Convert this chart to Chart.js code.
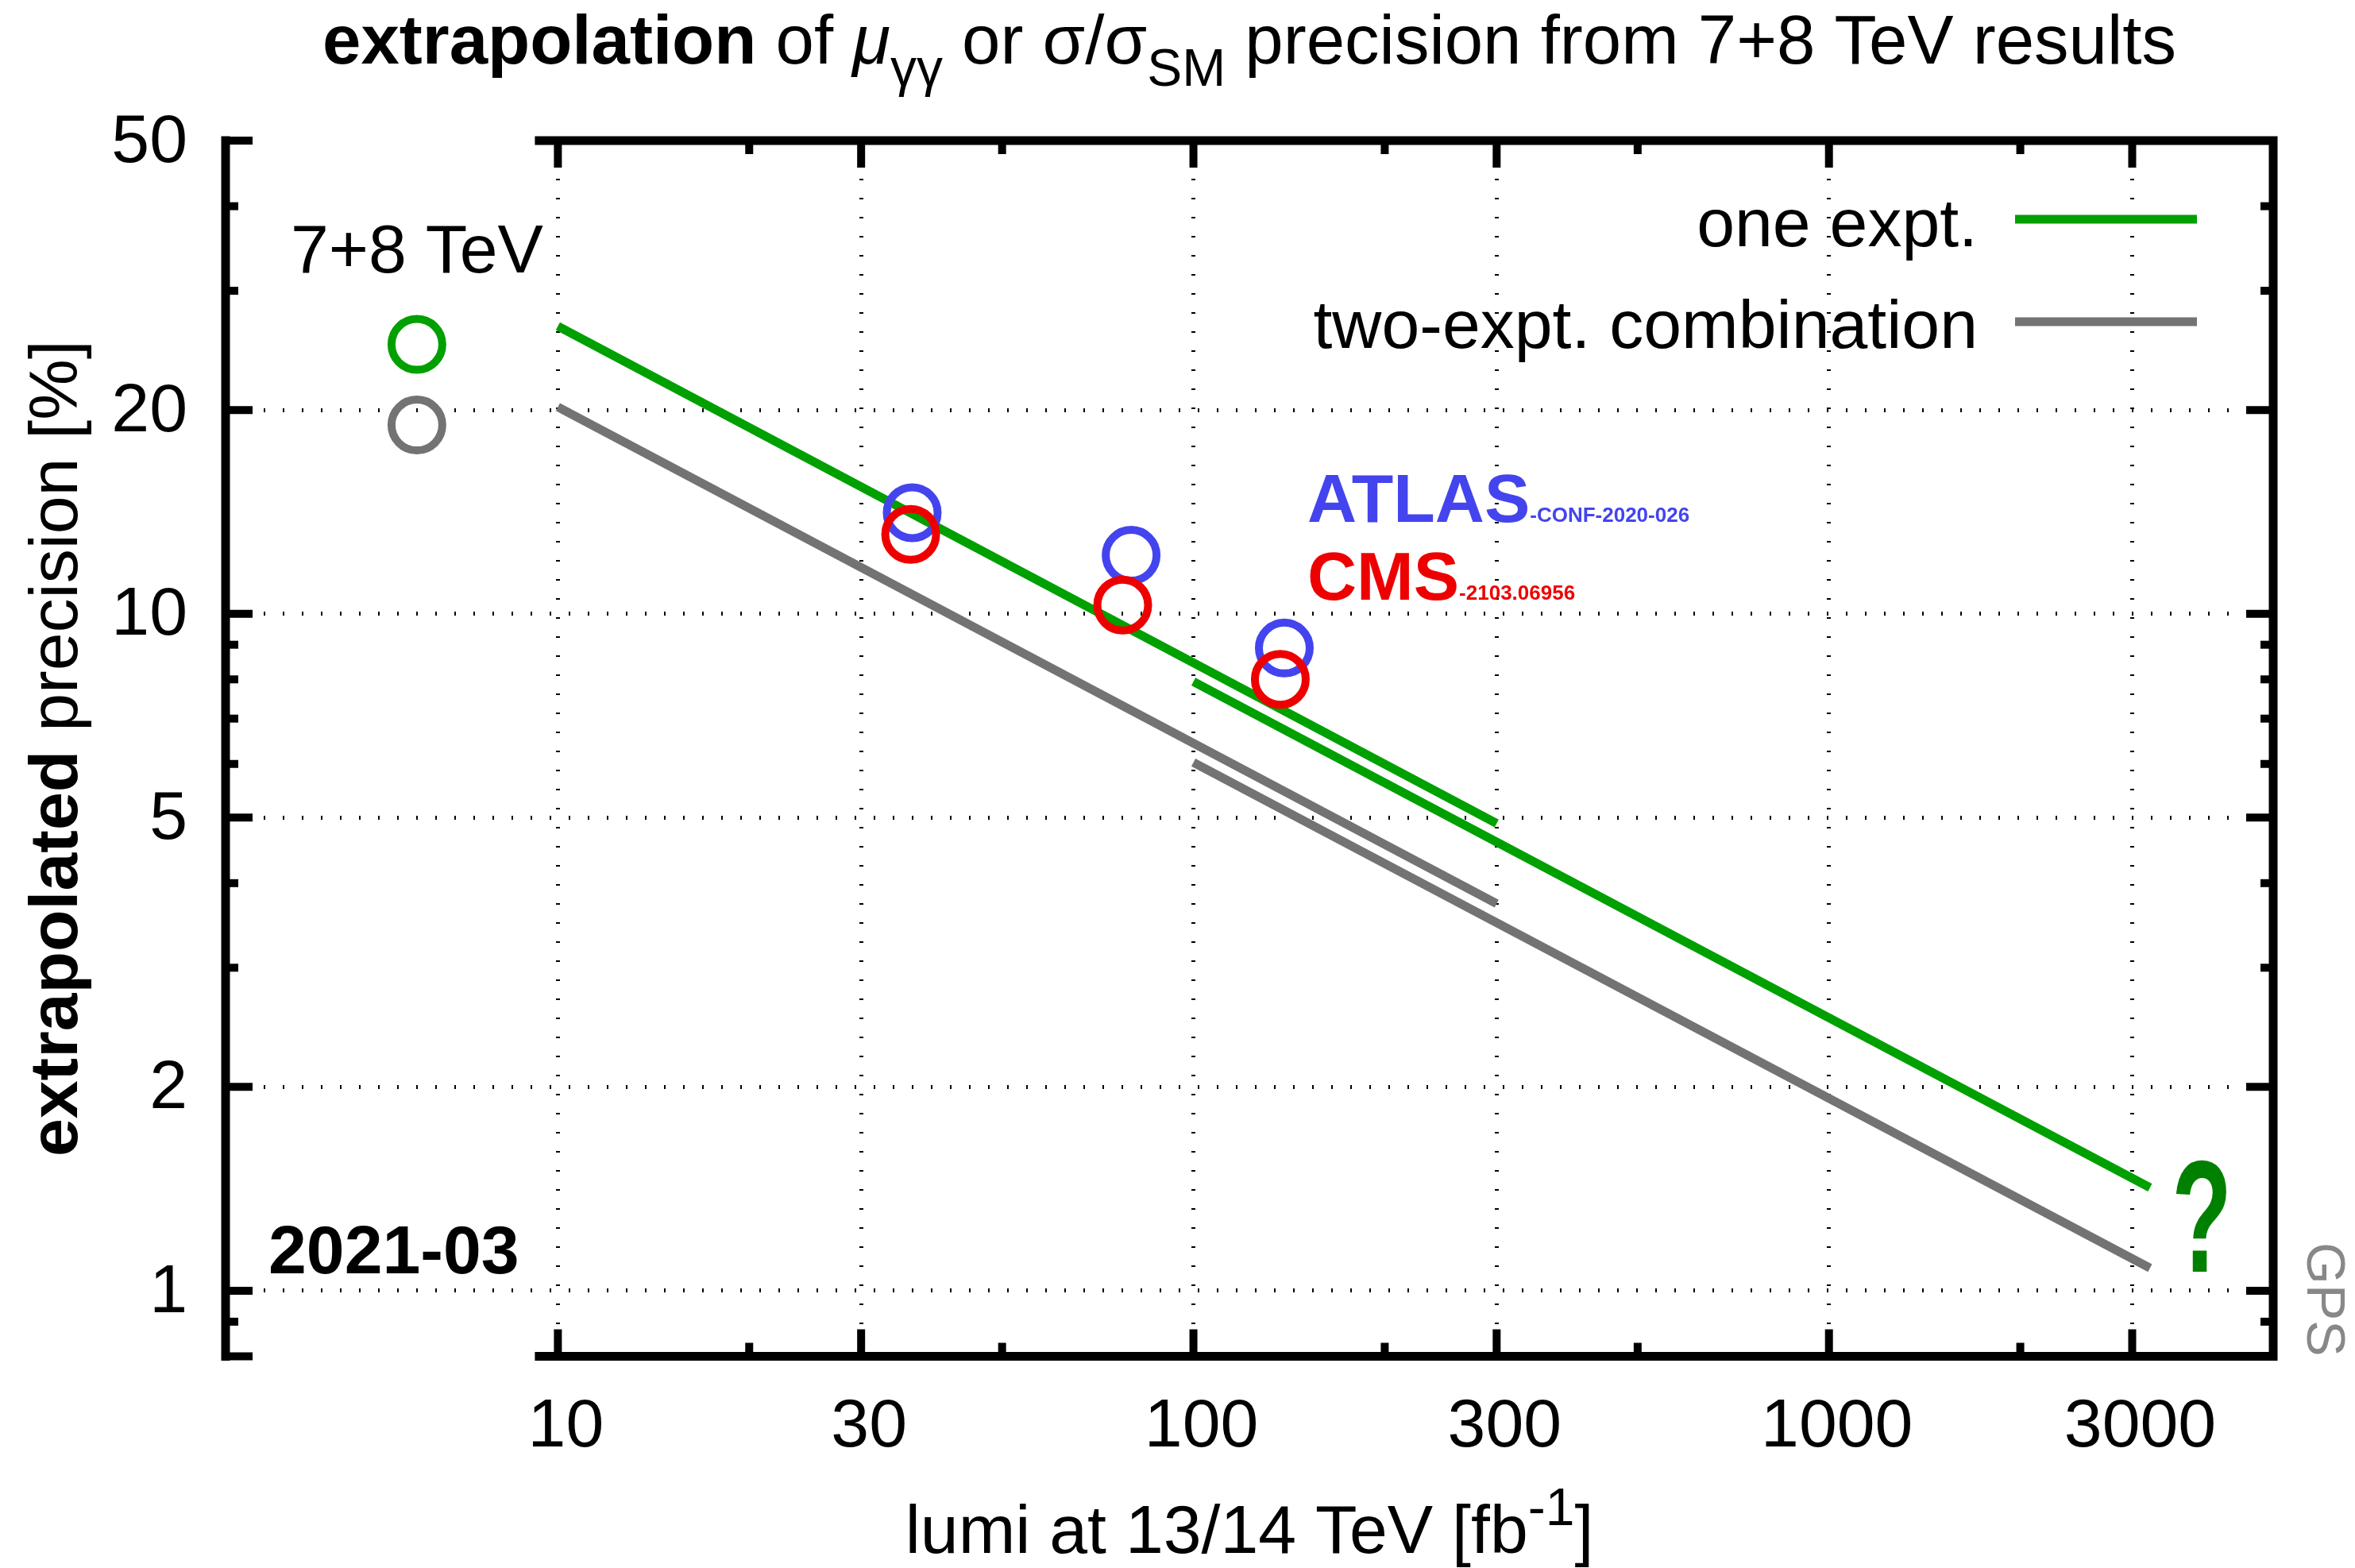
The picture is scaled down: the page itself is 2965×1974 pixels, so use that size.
<!DOCTYPE html>
<html>
<head>
<meta charset="utf-8">
<title>extrapolation of precision</title>
<script src="https://cdn.jsdelivr.net/npm/chart.js@4.4.1/dist/chart.umd.min.js"></script>
<style>
  html, body { margin: 0; padding: 0; background: #fff; }
</style>
</head>
<body>
<canvas id="chart" width="2965" height="1974"></canvas>
<script>
const FONT = "'Liberation Sans', Arial, Helvetica, sans-serif";

// axis ticks
const xTickValues = [10, 30, 100, 300, 1000, 3000];
const xMinorTicks = [20, 50, 200, 500, 2000];
const yTickValues = [1, 2, 5, 10, 20, 50];
const yMinorTicks = [0.9, 3, 4, 6, 7, 8, 9, 30, 40];

// 7+8 TeV results, shown left of the 13/14 TeV axis
const run1Lumi = [6];
const run1OneExpt = [25.0];
const run1TwoExpt = [19.0];

// 13 TeV measurements
const atlasLumi = [36.1, 79.8, 139];
const atlasPrecision = [14.1, 12.2, 8.9];
const cmsLumi = [35.9, 77.4, 137];
const cmsPrecision = [13.1, 10.3, 8.0];

// extrapolation starting from the 7+8 TeV precision (10 to 300)
const earlyLumi = [10, 300];
const earlyOneExpt = [26.6, 4.9];
const earlyTwoExpt = [20.2, 3.73];

// extrapolation from 100 onwards (100 to ~3200)
const lateLumi = [100, 3200];
const lateOneExpt = [7.94, 1.42];
const lateTwoExpt = [6.03, 1.08];

const GREEN = 'rgb(0,160,0)';
const GREY = 'rgb(115,115,115)';
const BLUE = 'rgb(68,68,238)';
const RED = 'rgb(238,0,0)';

function pts(xs, ys) {
    return xs.map((x, i) => ({ x: x, y: ys[i] }));
}

function lineSet(xs, ys, color) {
    return {
        data: pts(xs, ys),
        showLine: true,
        borderColor: color,
        borderWidth: 11,
        pointRadius: 0,
        order: 3
    };
}

function circleSet(xs, ys, color, order) {
    return {
        data: pts(xs, ys),
        showLine: false,
        pointStyle: 'circle',
        pointRadius: 32,
        pointBorderWidth: 10,
        pointBorderColor: color,
        pointBackgroundColor: 'rgba(0,0,0,0)',
        order: order
    };
}

// draw a row of text pieces with different fonts
function drawRich(ctx, runs, x, y, align) {
    let total = 0;
    runs.forEach(r => {
        ctx.font = r.font;
        r.w = ctx.measureText(r.text).width;
        total += r.w;
    });
    let cx = x;
    if (align === 'center') cx = x - total / 2;
    if (align === 'right') cx = x - total;
    ctx.textAlign = 'left';
    ctx.textBaseline = 'alphabetic';
    runs.forEach(r => {
        ctx.font = r.font;
        ctx.fillStyle = r.color || '#000';
        ctx.fillText(r.text, cx, y + (r.dy || 0));
        cx += r.w;
    });
}

const decorations = {
    id: 'decorations',
    afterDraw(chart) {
        const { ctx, chartArea: a, scales: { x, y } } = chart;
        ctx.save();

        // frame: left axis on its own, the rest starts just left of x=10
        ctx.strokeStyle = '#000';
        ctx.lineWidth = 11;
        ctx.lineJoin = 'miter';
        ctx.lineCap = 'butt';
        const xStart = x.getPixelForValue(9.2);
        ctx.beginPath();
        ctx.moveTo(xStart, a.top);
        ctx.lineTo(a.right, a.top);
        ctx.lineTo(a.right, a.bottom);
        ctx.lineTo(xStart, a.bottom);
        ctx.stroke();
        ctx.beginPath();
        ctx.moveTo(a.left, a.top - 5.5);
        ctx.lineTo(a.left, a.bottom + 5.5);
        ctx.stroke();

        // inward ticks
        ctx.lineWidth = 10;
        const seg = (x0, y0, x1, y1) => {
            ctx.beginPath();
            ctx.moveTo(x0, y0);
            ctx.lineTo(x1, y1);
            ctx.stroke();
        };
        xTickValues.forEach(v => {
            const px = x.getPixelForValue(v);
            seg(px, a.top, px, a.top + 34);
            seg(px, a.bottom, px, a.bottom - 34);
        });
        xMinorTicks.forEach(v => {
            const px = x.getPixelForValue(v);
            seg(px, a.top, px, a.top + 17);
            seg(px, a.bottom, px, a.bottom - 17);
        });
        yTickValues.concat([0.8]).forEach(v => {
            const py = y.getPixelForValue(v);
            seg(a.left, py, a.left + 34, py);
            seg(a.right, py, a.right - 34, py);
        });
        yMinorTicks.forEach(v => {
            const py = y.getPixelForValue(v);
            seg(a.left, py, a.left + 16, py);
            seg(a.right, py, a.right - 16, py);
        });

        // title
        drawRich(ctx, [
            { text: 'extrapolation', font: `bold 87px ${FONT}` },
            { text: ' of ', font: `87px ${FONT}` },
            { text: 'μ', font: `italic 87px ${FONT}` },
            { text: 'γγ', font: `66px ${FONT}`, dy: 28 },
            { text: ' or σ/σ', font: `87px ${FONT}` },
            { text: 'SM', font: `66px ${FONT}`, dy: 28 },
            { text: ' precision from 7+8 TeV results', font: `87px ${FONT}` }
        ], (a.left + a.right) / 2, 80, 'center');

        // x title
        drawRich(ctx, [
            { text: 'lumi at 13/14 TeV [fb', font: `86px ${FONT}` },
            { text: '-1', font: `66px ${FONT}`, dy: -35 },
            { text: ']', font: `86px ${FONT}` }
        ], (a.left + a.right) / 2, 1955, 'center');

        // y title
        ctx.save();
        ctx.translate(97, (a.top + a.bottom) / 2);
        ctx.rotate(-Math.PI / 2);
        drawRich(ctx, [
            { text: 'extrapolated', font: `bold 86px ${FONT}` },
            { text: ' precision [%]', font: `86px ${FONT}` }
        ], 0, 0, 'center');
        ctx.restore();

        // annotations
        drawRich(ctx, [{ text: '7+8 TeV', font: `86px ${FONT}` }],
            x.getPixelForValue(run1Lumi[0]), 343, 'center');
        drawRich(ctx, [{ text: '2021-03', font: `bold 86px ${FONT}` }], 338, 1603, 'left');

        // narrow question mark
        ctx.save();
        ctx.translate(2772, 1601);
        ctx.scale(0.62, 1);
        drawRich(ctx, [{ text: '?', font: `bold 200px ${FONT}`, color: 'rgb(0,128,0)' }], 0, 0, 'center');
        ctx.restore();

        drawRich(ctx, [
            { text: 'ATLAS', font: `bold 86px ${FONT}`, color: BLUE },
            { text: '-CONF-2020-026', font: `bold 26px ${FONT}`, color: BLUE }
        ], 1646, 657, 'left');
        drawRich(ctx, [
            { text: 'CMS', font: `bold 86px ${FONT}`, color: RED },
            { text: '-2103.06956', font: `bold 26px ${FONT}`, color: RED }
        ], 1646, 755, 'left');

        // legend
        drawRich(ctx, [{ text: 'one expt.', font: `86px ${FONT}` }], 2490, 310, 'right');
        drawRich(ctx, [{ text: 'two-expt. combination', font: `86px ${FONT}` }], 2490, 438, 'right');
        ctx.lineWidth = 11;
        ctx.strokeStyle = GREEN;
        seg(2537, 276, 2766, 276);
        ctx.strokeStyle = GREY;
        seg(2537, 405, 2766, 405);

        // signature
        ctx.save();
        ctx.translate(2905, 1564);
        ctx.rotate(Math.PI / 2);
        drawRich(ctx, [{ text: 'GPS', font: `68px ${FONT}`, color: 'rgb(136,136,136)' }], 0, 0, 'left');
        ctx.restore();

        ctx.restore();
    }
};

const tickFont = { family: FONT, size: 86 };

new Chart(document.getElementById('chart'), {
    type: 'scatter',
    data: {
        datasets: [
            circleSet(cmsLumi, cmsPrecision, RED, 0),
            circleSet(atlasLumi, atlasPrecision, BLUE, 1),
            circleSet(run1Lumi, run1OneExpt, GREEN, 2),
            circleSet(run1Lumi, run1TwoExpt, GREY, 2),
            lineSet(earlyLumi, earlyOneExpt, GREEN),
            lineSet(earlyLumi, earlyTwoExpt, GREY),
            lineSet(lateLumi, lateOneExpt, GREEN),
            lineSet(lateLumi, lateTwoExpt, GREY)
        ]
    },
    options: {
        responsive: false,
        animation: false,
        devicePixelRatio: 1,
        layout: { padding: { left: 0, right: 103, top: 177, bottom: 0 } },
        plugins: {
            legend: { display: false },
            tooltip: { enabled: false },
            title: { display: false }
        },
        scales: {
            x: {
                type: 'logarithmic',
                min: 3,
                max: 5000,
                afterBuildTicks: s => { s.ticks = xTickValues.map(v => ({ value: v })); },
                afterFit: s => { s.height = 266.5; },
                ticks: {
                    font: tickFont,
                    color: '#000',
                    padding: 38,
                    labelOffset: 10,
                    maxRotation: 0,
                    autoSkip: false,
                    callback: v => String(v)
                },
                grid: { drawTicks: false, color: '#000', lineWidth: 5 },
                border: { display: false, dash: [2, 22] }
            },
            y: {
                type: 'logarithmic',
                min: 0.8,
                max: 50,
                afterBuildTicks: s => { s.ticks = yTickValues.map(v => ({ value: v })); },
                afterFit: s => { s.width = 284; },
                ticks: {
                    font: tickFont,
                    color: '#000',
                    padding: 48,
                    labelOffset: 3,
                    autoSkip: false,
                    callback: v => String(v)
                },
                grid: {
                    drawTicks: false,
                    lineWidth: 5,
                    color: c => (c.tick && c.tick.value === 50) ? 'rgba(0,0,0,0)' : '#000'
                },
                border: { display: false, dash: [2, 22] }
            }
        }
    },
    plugins: [decorations]
});
</script>
</body>
</html>
